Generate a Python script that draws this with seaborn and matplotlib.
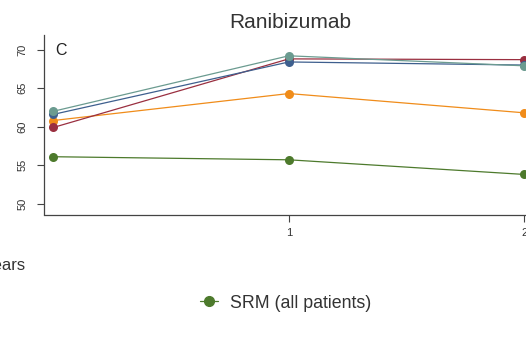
import numpy as np
import pandas as pd
import seaborn as sns
import matplotlib
matplotlib.use("Agg")
import matplotlib.pyplot as plt
from matplotlib.lines import Line2D

years = [0, 1, 2]
series = ["SRM (all patients)", "Group 2", "Group 3", "Group 4", "Group 5"]
srm_all = [56.1, 55.7, 53.8]
group2 = [60.8, 64.3, 61.8]
group3 = [59.9, 68.8, 68.7]
group4 = [61.6, 68.4, 68.0]
group5 = [62.0, 69.2, 67.9]
colors = ["#4d7a2c", "#f08c1a", "#9a2f40", "#3e5f8e", "#6b9b90"]

values = [srm_all, group2, group3, group4, group5]
df = pd.DataFrame({
    "year": years * len(series),
    "value": sum(values, []),
    "series": np.repeat(series, len(years)),
})

sns.set_style("ticks")
plt.rcParams["font.family"] = ["Liberation Sans", "DejaVu Sans"]

fig = plt.figure(figsize=(5.26, 3.54), dpi=100)
ax = fig.add_axes([44 / 526, 1 - 214.5 / 354, 492 / 526, (214.5 - 35) / 354])

sns.lineplot(data=df, x="year", y="value", hue="series", hue_order=series,
             palette=colors, marker="o", markersize=6.5, markeredgewidth=0,
             linewidth=0.9, legend=False, ax=ax)

ax.set_xlim(-0.04, 2.05)
ax.set_ylim(48.6, 71.9)
ax.set_xticks([1, 2])
ax.set_yticks([50, 55, 60, 65, 70])
ax.tick_params(axis="both", labelsize=8, length=5, width=0.8, color="#444444", labelcolor="#333333")
ax.tick_params(axis="y", pad=7)
ax.tick_params(axis="x", pad=5)
for lab in ax.get_yticklabels():
    lab.set_rotation(90)
    lab.set_va("center")
for s in ["left", "bottom"]:
    ax.spines[s].set_color("#444444")
    ax.spines[s].set_linewidth(0.9)
sns.despine(ax=ax)
ax.set_xlabel("")
ax.set_ylabel("")
ax.set_title("Ranibizumab", fontsize=15, color="#333333", pad=5)
ax.text(0.007, 69.9, "C", fontsize=11.5, color="#222222", va="center", ha="left")

fig.text(26 / 526, 1 - 265 / 354, "Years", fontsize=12, color="#333333", ha="right", va="center")

handle = Line2D([], [], color=colors[0], marker="o", markersize=7, linewidth=0.9)
fig.legend([handle], [series[0]], loc="center left", bbox_to_anchor=(184 / 526, 1 - 303 / 354),
           frameon=False, fontsize=12.8, handlelength=1.0, handletextpad=0.7,
           labelcolor="#333333")

fig.savefig("out.png", dpi=100)
